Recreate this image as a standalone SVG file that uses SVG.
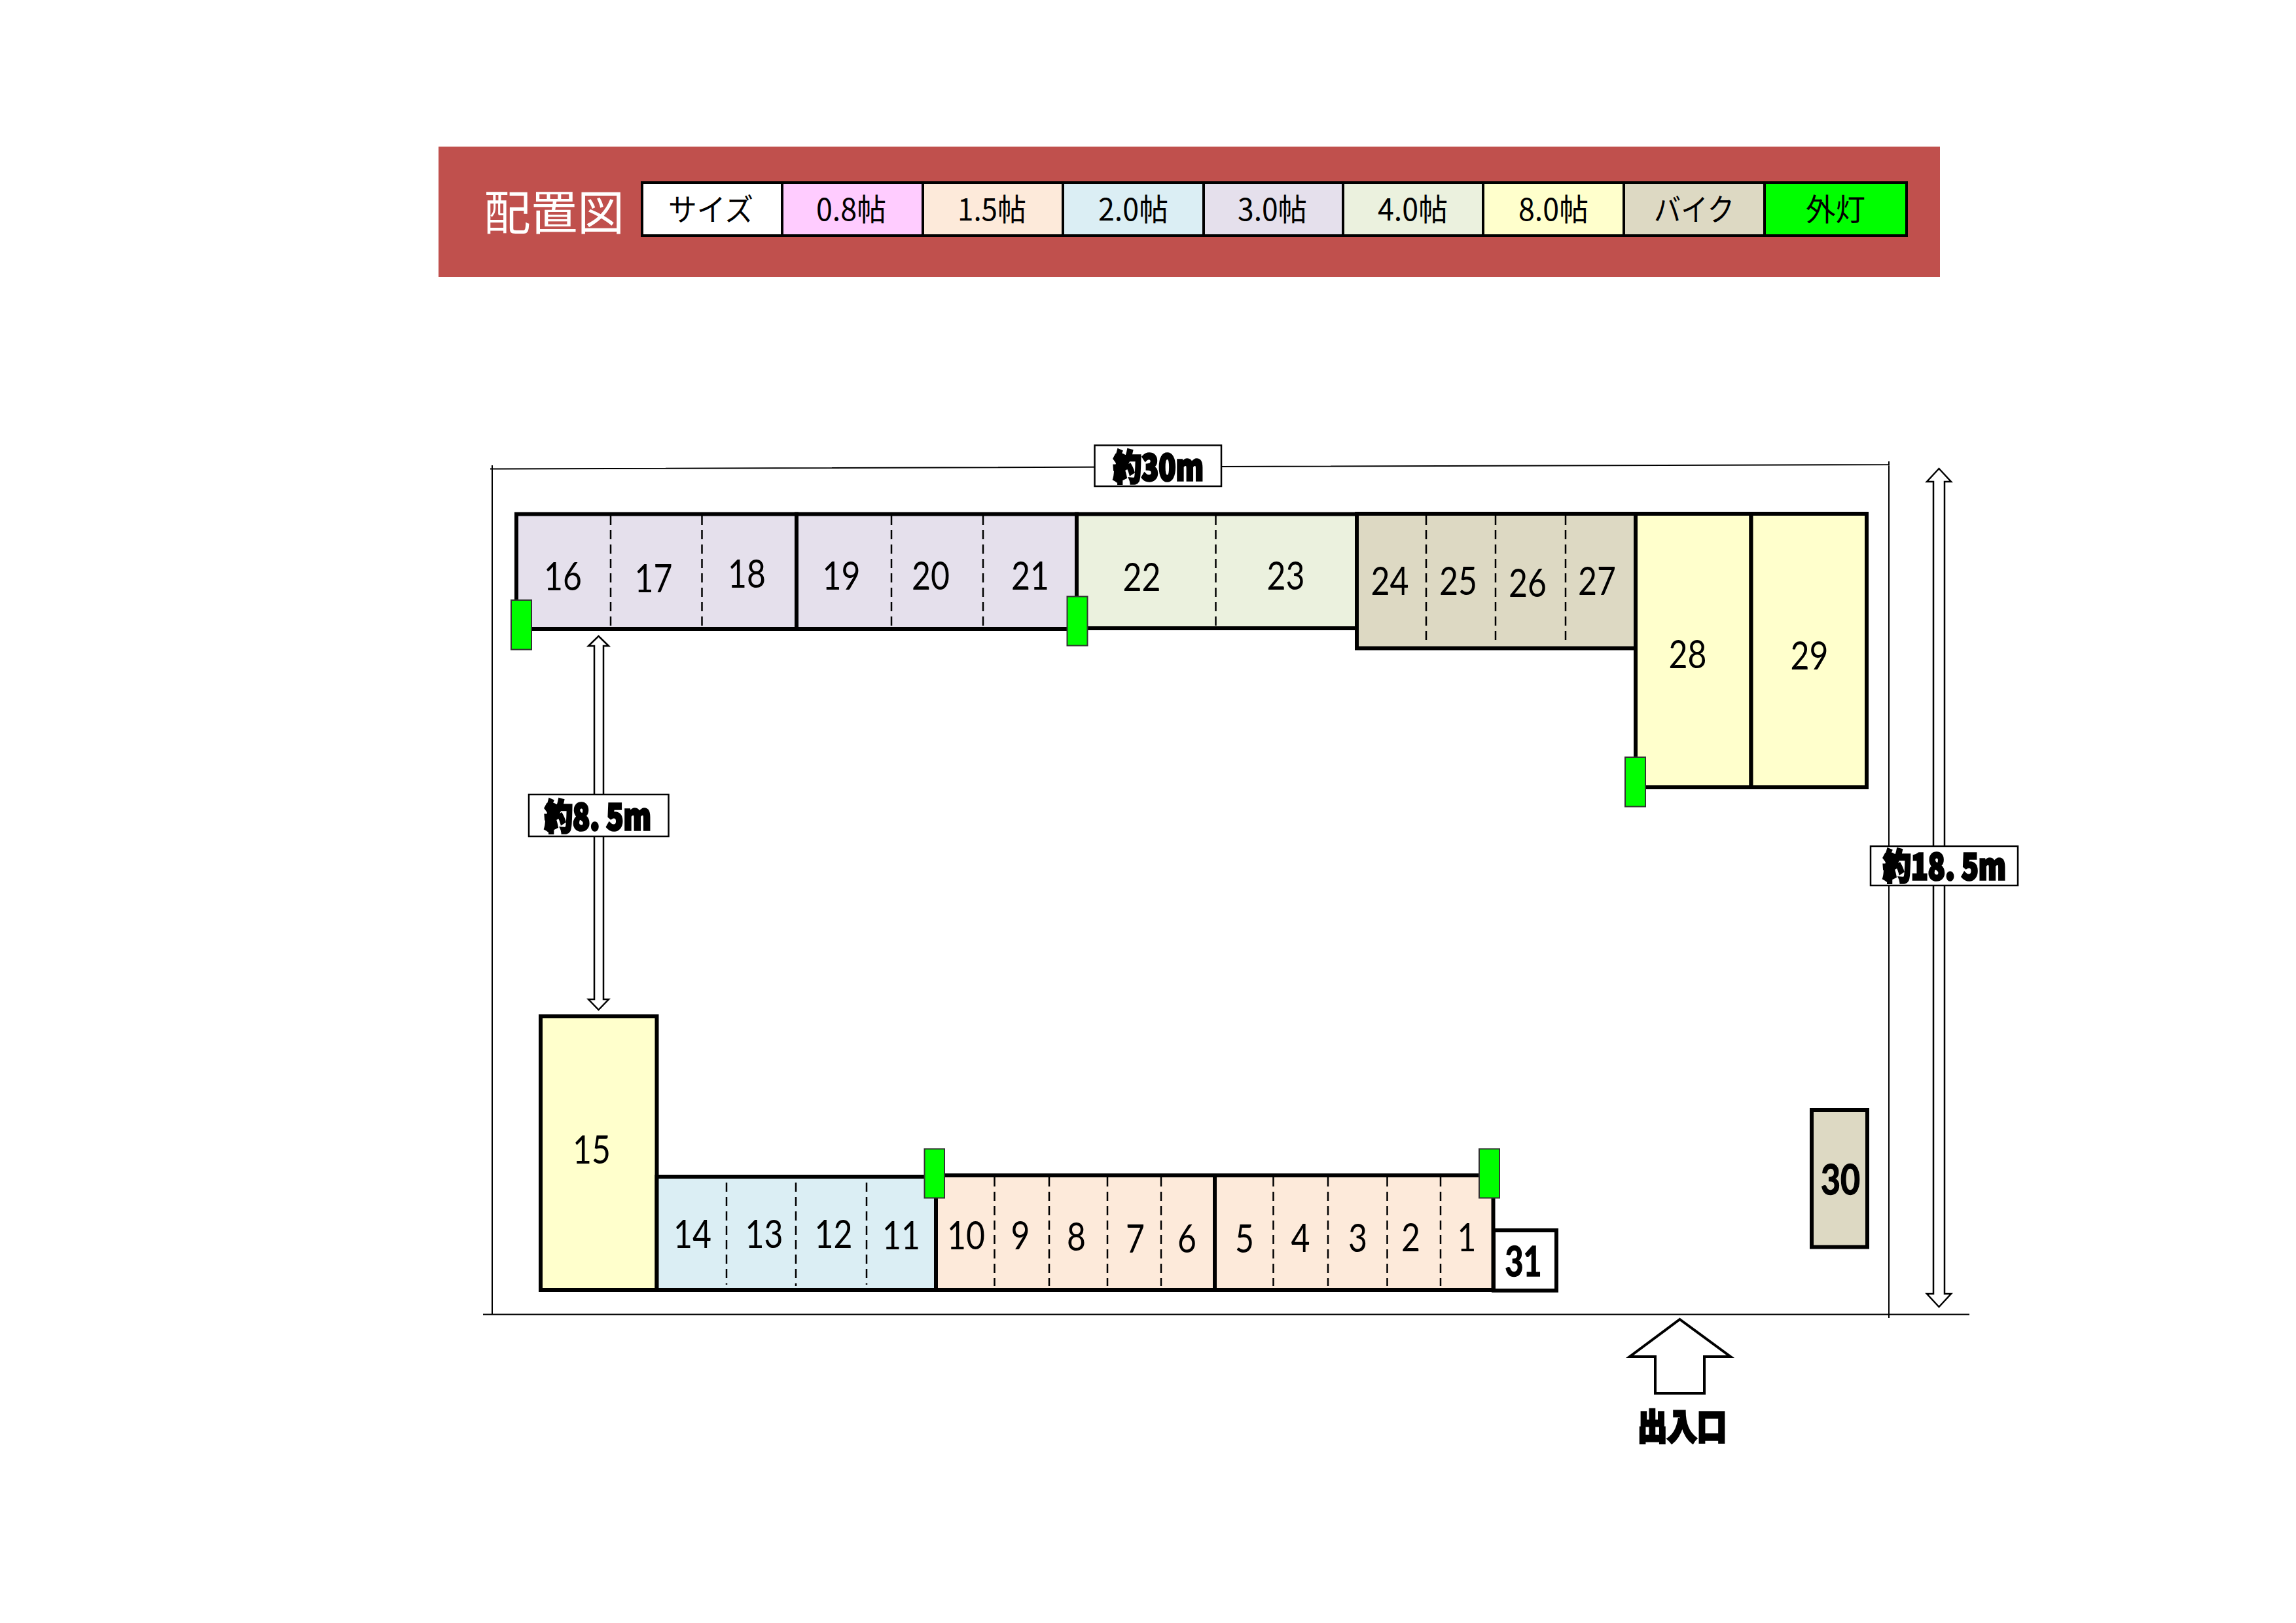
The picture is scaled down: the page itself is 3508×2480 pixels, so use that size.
<svg xmlns="http://www.w3.org/2000/svg" width="3508" height="2480" viewBox="0 0 3508 2480">
<style>
.cell{stroke:#000;stroke-width:6}
.lav{fill:#E5E0EC}.grn{fill:#EBF1DE}.bike{fill:#DDD9C3}.yel{fill:#FFFFCC}.blu{fill:#DBEEF4}.pch{fill:#FDEADA}.wht{fill:#fff}.pnk{fill:#FFCCFF}.lit{fill:#00FF00}
.leg{stroke:#000;stroke-width:4}
.lamp{fill:#00FF00;stroke:#333;stroke-width:2}
.div{stroke:#000;stroke-width:2.5;stroke-dasharray:14 8;fill:none}
.line{stroke:#000;stroke-width:2;fill:none}
.arrow{fill:#fff;stroke:#000;stroke-width:2.5}
.box{fill:#fff;stroke:#000;stroke-width:2.5}
.n{font-family:"Lato","Noto Sans",sans-serif;font-size:60px;fill:#000;text-anchor:middle}
.nb{font-family:"Lato","Noto Sans",sans-serif;font-size:64px;font-weight:700;fill:#000;stroke:#000;stroke-width:1.5;text-anchor:middle}
.lt{font-family:"Noto Sans CJK JP",sans-serif;font-size:47px;fill:#000}
.h{font-family:"Noto Sans CJK JP",sans-serif;font-size:54px;font-weight:900;fill:#000;stroke:#000;stroke-width:3.5}
.ttl{font-family:"Noto Sans CJK JP",sans-serif;font-size:72px;fill:#fff}
</style>
<rect width="3508" height="2480" fill="#fff"/>
<g id="header">
<rect x="670" y="224" width="2294" height="199" fill="#C0504D"/>
<text class="ttl" x="739" y="351" textLength="215" lengthAdjust="spacingAndGlyphs">配置図</text>
</g>
<g id="legend">
<g id="leg-size"><rect class="leg wht" x="981" y="279" width="214" height="81"/><text class="lt" x="1021" y="337" textLength="130" lengthAdjust="spacingAndGlyphs">サイズ</text></g>
<g id="leg-08"><rect class="leg pnk" x="1195" y="279" width="215" height="81"/><text class="lt" x="1247" y="337" textLength="107" lengthAdjust="spacingAndGlyphs">0.8帖</text></g>
<g id="leg-15"><rect class="leg pch" x="1410" y="279" width="214" height="81"/><text class="lt" x="1463" y="337" textLength="105" lengthAdjust="spacingAndGlyphs">1.5帖</text></g>
<g id="leg-20"><rect class="leg blu" x="1624" y="279" width="215" height="81"/><text class="lt" x="1678" y="337" textLength="107" lengthAdjust="spacingAndGlyphs">2.0帖</text></g>
<g id="leg-30"><rect class="leg lav" x="1839" y="279" width="213" height="81"/><text class="lt" x="1891" y="337" textLength="106" lengthAdjust="spacingAndGlyphs">3.0帖</text></g>
<g id="leg-40"><rect class="leg grn" x="2052" y="279" width="214" height="81"/><text class="lt" x="2105" y="337" textLength="107" lengthAdjust="spacingAndGlyphs">4.0帖</text></g>
<g id="leg-80"><rect class="leg yel" x="2266" y="279" width="215" height="81"/><text class="lt" x="2320" y="337" textLength="107" lengthAdjust="spacingAndGlyphs">8.0帖</text></g>
<g id="leg-bike"><rect class="leg bike" x="2481" y="279" width="215" height="81"/><text class="lt" x="2527" y="337" textLength="123" lengthAdjust="spacingAndGlyphs">バイク</text></g>
<g id="leg-light"><rect class="leg lit" x="2696" y="279" width="217" height="81"/><text class="lt" x="2759" y="337" textLength="91" lengthAdjust="spacingAndGlyphs">外灯</text></g>
</g>
<g id="connectors">
<path class="line" d="M749 716.5L2887 710M752 711V2008M738 2008.5H3009M2886 705V2014"/>
<polygon class="arrow" points="914.5,972 930,987 922,987 922,1527 930,1527 914.5,1543 899,1527 908,1527 908,987 899,987"/>
<polygon class="arrow" points="2962.5,716 2981,736 2971,736 2971,1977 2981,1977 2962.5,1997 2944,1977 2954,1977 2954,736 2944,736"/>
<polygon id="entrance-arrow" class="arrow" style="stroke-width:4" points="2566.5,2016 2644,2073 2604,2073 2604,2129 2529,2129 2529,2073 2490,2073"/>
</g>
<g id="block-16-18"><rect class="cell lav" x="789" y="785.500" width="428" height="175.500"/><path class="div" d="M933 788V958M1072.500 788V958"/><text class="n" x="860" y="902" textLength="58" lengthAdjust="spacingAndGlyphs">16</text><text class="n" x="998.500" y="905" textLength="58" lengthAdjust="spacingAndGlyphs">17</text><text class="n" x="1141" y="898" textLength="58" lengthAdjust="spacingAndGlyphs">18</text></g>
<g id="block-19-21"><rect class="cell lav" x="1217" y="785.500" width="428" height="175.500"/><path class="div" d="M1362 788V958M1502 788V958"/><text class="n" x="1285.500" y="901" textLength="58" lengthAdjust="spacingAndGlyphs">19</text><text class="n" x="1422" y="901" textLength="58" lengthAdjust="spacingAndGlyphs">20</text><text class="n" x="1574" y="901" textLength="58" lengthAdjust="spacingAndGlyphs">21</text></g>
<g id="block-22-23"><rect class="cell grn" x="1645" y="785.500" width="428" height="174.500"/><path class="div" d="M1857.500 788V958"/><text class="n" x="1744.500" y="903" textLength="58" lengthAdjust="spacingAndGlyphs">22</text><text class="n" x="1964.500" y="901" textLength="58" lengthAdjust="spacingAndGlyphs">23</text></g>
<g id="block-24-27"><rect class="cell bike" x="2073" y="785" width="426" height="205.500"/><path class="div" d="M2179 788V981M2285 788V983M2392 788V981"/><text class="n" x="2123.500" y="909" textLength="58" lengthAdjust="spacingAndGlyphs">24</text><text class="n" x="2228" y="909" textLength="58" lengthAdjust="spacingAndGlyphs">25</text><text class="n" x="2334" y="912" textLength="58" lengthAdjust="spacingAndGlyphs">26</text><text class="n" x="2440" y="909" textLength="58" lengthAdjust="spacingAndGlyphs">27</text></g>
<g id="slot-28"><rect class="cell yel" x="2499" y="785" width="176.500" height="418"/><text class="n" x="2578.500" y="1021" textLength="58" lengthAdjust="spacingAndGlyphs">28</text></g>
<g id="slot-29"><rect class="cell yel" x="2675.500" y="785" width="176.500" height="418"/><text class="n" x="2764.500" y="1023" textLength="58" lengthAdjust="spacingAndGlyphs">29</text></g>
<g id="slot-15"><rect class="cell yel" x="826" y="1553" width="177.500" height="418"/><text class="n" x="904" y="1778" textLength="58" lengthAdjust="spacingAndGlyphs">15</text></g>
<g id="block-14-11"><rect class="cell blu" x="1003.500" y="1798" width="426.500" height="173"/><path class="div" d="M1110 1807V1963M1216 1807V1965M1324 1807V1963"/><text class="n" x="1058" y="1907" textLength="58" lengthAdjust="spacingAndGlyphs">14</text><text class="n" x="1167.500" y="1907" textLength="58" lengthAdjust="spacingAndGlyphs">13</text><text class="n" x="1273.500" y="1907" textLength="58" lengthAdjust="spacingAndGlyphs">12</text><text class="n" x="1377" y="1909" textLength="58" lengthAdjust="spacingAndGlyphs">11</text></g>
<g id="block-10-6"><rect class="cell pch" x="1430" y="1796" width="426" height="175"/><path class="div" d="M1519.500 1799V1965M1603 1799V1965M1692 1799V1965M1774 1799V1965"/><text class="n" x="1476" y="1909" textLength="58" lengthAdjust="spacingAndGlyphs">10</text><text class="n" x="1559" y="1909" textLength="29" lengthAdjust="spacingAndGlyphs">9</text><text class="n" x="1644.500" y="1911" textLength="29" lengthAdjust="spacingAndGlyphs">8</text><text class="n" x="1734.500" y="1914" textLength="29" lengthAdjust="spacingAndGlyphs">7</text><text class="n" x="1813.500" y="1914" textLength="29" lengthAdjust="spacingAndGlyphs">6</text></g>
<g id="block-5-1"><rect class="cell pch" x="1856" y="1796" width="425.500" height="175"/><path class="div" d="M1945.500 1799V1965M2029 1799V1965M2119.500 1799V1965M2201 1799V1965"/><text class="n" x="1901.500" y="1914" textLength="29" lengthAdjust="spacingAndGlyphs">5</text><text class="n" x="1987" y="1913" textLength="29" lengthAdjust="spacingAndGlyphs">4</text><text class="n" x="2074.500" y="1913" textLength="29" lengthAdjust="spacingAndGlyphs">3</text><text class="n" x="2155.500" y="1912" textLength="29" lengthAdjust="spacingAndGlyphs">2</text><text class="n" x="2241" y="1912" textLength="29" lengthAdjust="spacingAndGlyphs">1</text></g>
<g id="slot-31"><rect class="cell wht" x="2282" y="1880" width="96" height="92"/><text class="nb" x="2327.500" y="1950" textLength="56" lengthAdjust="spacingAndGlyphs">31</text></g>
<g id="slot-30"><rect class="cell bike" x="2768" y="1696" width="85" height="209.500"/><text class="nb" x="2812" y="1825" textLength="60" lengthAdjust="spacingAndGlyphs">30</text></g>
<g id="lamps">
<rect class="lamp" x="781" y="917" width="31" height="75.500"/>
<rect class="lamp" x="1630.500" y="911.500" width="31" height="75"/>
<rect class="lamp" x="2483" y="1157" width="31" height="75.500"/>
<rect class="lamp" x="1412.500" y="1755.500" width="30.500" height="75"/>
<rect class="lamp" x="2260" y="1755.500" width="31" height="75"/>
</g>
<g id="label-30m"><rect class="box" x="1672.500" y="680.500" width="193.500" height="62.500"/><text class="h" x="1701" y="734" textLength="138" lengthAdjust="spacingAndGlyphs">約30m</text></g>
<g id="label-85m"><rect class="box" x="808" y="1214" width="213.500" height="64"/><text class="h" x="832" y="1268" textLength="163" lengthAdjust="spacingAndGlyphs">約8. 5m</text></g>
<g id="label-185m"><rect class="box" x="2858" y="1293" width="225" height="60"/><text class="h" x="2877" y="1344" textLength="188" lengthAdjust="spacingAndGlyphs">約18. 5m</text></g>
<g id="label-entrance"><text class="h" x="2502" y="2200" textLength="136" lengthAdjust="spacingAndGlyphs">出入口</text></g>
</svg>
